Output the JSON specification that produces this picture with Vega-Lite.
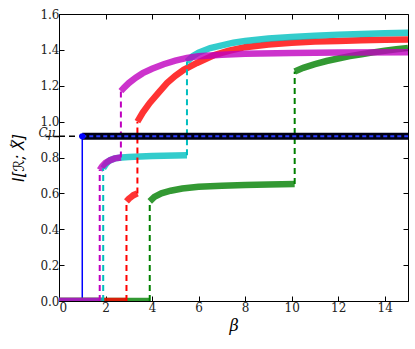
{
  "$schema": "https://vega.github.io/schema/vega-lite/v6.json",
  "width": 349,
  "height": 287,
  "autosize": "none",
  "padding": {"left": 59, "top": 14, "right": 7, "bottom": 48},
  "background": "white",
  "config": {
    "view": {"stroke": null},
    "axis": {"labelFont": "DejaVu Serif", "titleFont": "DejaVu Serif", "labelFontSize": 12, "titleFontSize": 15, "labelColor": "#222", "titleColor": "black", "domainColor": "black", "tickColor": "black", "grid": false, "labelOverlap": false, "titleFontWeight": "normal"}
  },
  "datasets": {
    "bands": [
      {"s": "green", "g": "g0", "b": 0, "v": 0}, {"s": "green", "g": "g0", "b": 3.9, "v": 0},
      {"s": "red", "g": "r0", "b": 0, "v": 0}, {"s": "red", "g": "r0", "b": 2.9, "v": 0},
      {"s": "cyan", "g": "c0", "b": 0, "v": 0}, {"s": "cyan", "g": "c0", "b": 1.9, "v": 0},
      {"s": "magenta", "g": "m0", "b": 0, "v": 0}, {"s": "magenta", "g": "m0", "b": 1.75, "v": 0},
      {"s": "green", "g": "g1", "b": 3.9, "v": 0.555}, {"s": "green", "g": "g1", "b": 4.1, "v": 0.58},
      {"s": "green", "g": "g1", "b": 4.4, "v": 0.6}, {"s": "green", "g": "g1", "b": 4.8, "v": 0.615},
      {"s": "green", "g": "g1", "b": 5.3, "v": 0.627}, {"s": "green", "g": "g1", "b": 6, "v": 0.637},
      {"s": "green", "g": "g1", "b": 7, "v": 0.643}, {"s": "green", "g": "g1", "b": 8, "v": 0.647},
      {"s": "green", "g": "g1", "b": 9, "v": 0.65}, {"s": "green", "g": "g1", "b": 10.13, "v": 0.652},
      {"s": "green", "g": "g2", "b": 10.13, "v": 1.28}, {"s": "green", "g": "g2", "b": 10.5, "v": 1.3},
      {"s": "green", "g": "g2", "b": 11, "v": 1.32}, {"s": "green", "g": "g2", "b": 11.5, "v": 1.338},
      {"s": "green", "g": "g2", "b": 12, "v": 1.352}, {"s": "green", "g": "g2", "b": 12.5, "v": 1.365},
      {"s": "green", "g": "g2", "b": 13, "v": 1.376}, {"s": "green", "g": "g2", "b": 13.5, "v": 1.386},
      {"s": "green", "g": "g2", "b": 14, "v": 1.395}, {"s": "green", "g": "g2", "b": 14.5, "v": 1.403},
      {"s": "green", "g": "g2", "b": 15, "v": 1.41},
      {"s": "red", "g": "r1", "b": 2.9, "v": 0.555}, {"s": "red", "g": "r1", "b": 3.0, "v": 0.57},
      {"s": "red", "g": "r1", "b": 3.1, "v": 0.58}, {"s": "red", "g": "r1", "b": 3.2, "v": 0.59},
      {"s": "red", "g": "r1", "b": 3.37, "v": 0.6},
      {"s": "red", "g": "r2", "b": 3.37, "v": 1.0}, {"s": "red", "g": "r2", "b": 3.6, "v": 1.05},
      {"s": "red", "g": "r2", "b": 3.9, "v": 1.104}, {"s": "red", "g": "r2", "b": 4.3, "v": 1.165},
      {"s": "red", "g": "r2", "b": 4.64, "v": 1.215}, {"s": "red", "g": "r2", "b": 5.0, "v": 1.255},
      {"s": "red", "g": "r2", "b": 5.36, "v": 1.289}, {"s": "red", "g": "r2", "b": 5.93, "v": 1.327},
      {"s": "red", "g": "r2", "b": 6.65, "v": 1.37}, {"s": "red", "g": "r2", "b": 7.3, "v": 1.395},
      {"s": "red", "g": "r2", "b": 8, "v": 1.415}, {"s": "red", "g": "r2", "b": 9, "v": 1.43},
      {"s": "red", "g": "r2", "b": 10, "v": 1.44}, {"s": "red", "g": "r2", "b": 11, "v": 1.446},
      {"s": "red", "g": "r2", "b": 12, "v": 1.45}, {"s": "red", "g": "r2", "b": 13, "v": 1.453},
      {"s": "red", "g": "r2", "b": 14, "v": 1.456}, {"s": "red", "g": "r2", "b": 15, "v": 1.458},
      {"s": "cyan", "g": "c1", "b": 1.9, "v": 0.74}, {"s": "cyan", "g": "c1", "b": 2.0, "v": 0.76},
      {"s": "cyan", "g": "c1", "b": 2.1, "v": 0.775}, {"s": "cyan", "g": "c1", "b": 2.2, "v": 0.785},
      {"s": "cyan", "g": "c1", "b": 2.4, "v": 0.795}, {"s": "cyan", "g": "c1", "b": 2.7, "v": 0.8},
      {"s": "cyan", "g": "c1", "b": 3.0, "v": 0.803}, {"s": "cyan", "g": "c1", "b": 3.5, "v": 0.806},
      {"s": "cyan", "g": "c1", "b": 4.0, "v": 0.808}, {"s": "cyan", "g": "c1", "b": 4.5, "v": 0.81},
      {"s": "cyan", "g": "c1", "b": 5.0, "v": 0.811}, {"s": "cyan", "g": "c1", "b": 5.5, "v": 0.812},
      {"s": "cyan", "g": "c2", "b": 5.5, "v": 1.335}, {"s": "cyan", "g": "c2", "b": 5.75, "v": 1.365},
      {"s": "cyan", "g": "c2", "b": 6, "v": 1.385}, {"s": "cyan", "g": "c2", "b": 6.5, "v": 1.41},
      {"s": "cyan", "g": "c2", "b": 7, "v": 1.425}, {"s": "cyan", "g": "c2", "b": 7.5, "v": 1.44},
      {"s": "cyan", "g": "c2", "b": 8, "v": 1.45}, {"s": "cyan", "g": "c2", "b": 9, "v": 1.463},
      {"s": "cyan", "g": "c2", "b": 10, "v": 1.472}, {"s": "cyan", "g": "c2", "b": 11, "v": 1.479},
      {"s": "cyan", "g": "c2", "b": 12, "v": 1.485}, {"s": "cyan", "g": "c2", "b": 13, "v": 1.489},
      {"s": "cyan", "g": "c2", "b": 14, "v": 1.492}, {"s": "cyan", "g": "c2", "b": 15, "v": 1.495},
      {"s": "magenta", "g": "m1", "b": 1.75, "v": 0.73}, {"s": "magenta", "g": "m1", "b": 1.85, "v": 0.75},
      {"s": "magenta", "g": "m1", "b": 2.0, "v": 0.77}, {"s": "magenta", "g": "m1", "b": 2.2, "v": 0.785},
      {"s": "magenta", "g": "m1", "b": 2.4, "v": 0.795}, {"s": "magenta", "g": "m1", "b": 2.66, "v": 0.8},
      {"s": "magenta", "g": "m2", "b": 2.66, "v": 1.17}, {"s": "magenta", "g": "m2", "b": 2.8, "v": 1.19},
      {"s": "magenta", "g": "m2", "b": 3.0, "v": 1.215}, {"s": "magenta", "g": "m2", "b": 3.3, "v": 1.245},
      {"s": "magenta", "g": "m2", "b": 3.6, "v": 1.27}, {"s": "magenta", "g": "m2", "b": 4.0, "v": 1.295},
      {"s": "magenta", "g": "m2", "b": 4.5, "v": 1.32}, {"s": "magenta", "g": "m2", "b": 5.0, "v": 1.34},
      {"s": "magenta", "g": "m2", "b": 5.5, "v": 1.355}, {"s": "magenta", "g": "m2", "b": 6, "v": 1.365},
      {"s": "magenta", "g": "m2", "b": 7, "v": 1.373}, {"s": "magenta", "g": "m2", "b": 8, "v": 1.378},
      {"s": "magenta", "g": "m2", "b": 10, "v": 1.382}, {"s": "magenta", "g": "m2", "b": 12, "v": 1.385},
      {"s": "magenta", "g": "m2", "b": 15, "v": 1.387}
    ],
    "jumps": [
      {"s": "magenta", "b": 1.75, "y1": 0, "y2": 0.73}, {"s": "magenta", "b": 2.66, "y1": 0.8, "y2": 1.17},
      {"s": "cyan", "b": 1.9, "y1": 0, "y2": 0.74}, {"s": "cyan", "b": 5.5, "y1": 0.812, "y2": 1.335},
      {"s": "red", "b": 2.9, "y1": 0, "y2": 0.555}, {"s": "red", "b": 3.37, "y1": 0.6, "y2": 1.0},
      {"s": "green", "b": 3.9, "y1": 0, "y2": 0.555}, {"s": "green", "b": 10.13, "y1": 0.652, "y2": 1.28}
    ],
    "blue": [
      {"i": 0, "b": 0, "v": 0}, {"i": 1, "b": 1, "v": 0}, {"i": 2, "b": 1, "v": 0.918}
    ],
    "cmu": [
      {"b": 0, "v": 0.918}, {"b": 1, "v": 0.918}
    ],
    "plateau": [
      {"b": 1, "v": 0.918}, {"b": 15, "v": 0.918}
    ]
  },
  "resolve": {"axis": {"x": "independent", "y": "independent"}},
  "layer": [
    {
      "data": {"name": "blue"},
      "mark": {"type": "line", "color": "#0000ff", "strokeWidth": 1.5, "clip": true},
      "encoding": {
        "x": {"field": "b", "type": "quantitative", "scale": {"domain": [0, 15], "nice": false, "zero": false},
              "axis": {"orient": "bottom", "title": "β", "titleFontStyle": "italic", "titleFontSize": 16, "values": [0, 2, 4, 6, 8, 10, 12, 14], "format": "d", "tickSize": -5, "labelPadding": 6, "titlePadding": 4}},
        "y": {"field": "v", "type": "quantitative", "scale": {"domain": [0, 1.6], "nice": false, "zero": false},
              "axis": {"orient": "left", "title": "I[ℛ; X⃖]", "titleFont": "DejaVu Sans", "titleFontStyle": "italic", "titleFontSize": 15,
                       "titleX": -33, "titleY": 143.5, "titleBaseline": "bottom", "titleAlign": "center",
                       "values": [0, 0.2, 0.4, 0.6, 0.8, 0.918, 1.0, 1.2, 1.4, 1.6],
                       "labelExpr": "datum.value == 0.918 ? 'Cμ' : format(datum.value, '.1f')",
                       "labelFontStyle": {"condition": {"test": "datum.value == 0.918", "value": "italic"}, "value": "normal"},
                       "labelBaseline": {"condition": {"test": "datum.value == 0.918", "value": "alphabetic"}, "value": "middle"},
                       "tickSize": {"condition": {"test": "datum.value == 0.918", "value": 14}, "value": -5},
                       "tickDash": {"condition": {"test": "datum.value == 0.918", "value": [6, 4]}, "value": []},
                       "tickWidth": {"condition": {"test": "datum.value == 0.918", "value": 1.5}, "value": 1},
                       "labelPadding": {"condition": {"test": "datum.value == 0.918", "value": -10}, "value": 5}}},
        "order": {"field": "i", "type": "quantitative"}
      }
    },
    {
      "data": {"name": "bands"},
      "mark": {"type": "line", "strokeWidth": 6.5, "opacity": 0.8, "clip": true, "strokeCap": "butt"},
      "encoding": {
        "x": {"field": "b", "type": "quantitative", "axis": null},
        "y": {"field": "v", "type": "quantitative", "axis": null},
        "color": {"field": "s", "type": "nominal", "legend": null,
                  "scale": {"domain": ["blue", "green", "red", "cyan", "magenta"], "range": ["#0000ff", "#008000", "#ff0000", "#00bfbf", "#bf00bf"]}},
        "detail": {"field": "g", "type": "nominal"}
      }
    },
    {
      "data": {"name": "jumps"},
      "mark": {"type": "rule", "strokeWidth": 2, "strokeDash": [6, 4], "clip": true},
      "encoding": {
        "x": {"field": "b", "type": "quantitative", "axis": null},
        "y": {"field": "y1", "type": "quantitative", "axis": null},
        "y2": {"field": "y2"},
        "color": {"field": "s", "type": "nominal", "legend": null}
      }
    },
    {
      "data": {"name": "cmu"},
      "mark": {"type": "line", "color": "black", "strokeWidth": 1.5, "strokeDash": [6, 4]},
      "encoding": {
        "x": {"field": "b", "type": "quantitative", "axis": null},
        "y": {"field": "v", "type": "quantitative", "axis": null}
      }
    },
    {
      "data": {"name": "plateau"},
      "mark": {"type": "line", "color": "#000014", "strokeWidth": 7, "clip": true},
      "encoding": {
        "x": {"field": "b", "type": "quantitative",
              "axis": {"orient": "top", "title": null, "labels": false, "tickSize": -5, "values": [0, 2, 4, 6, 8, 10, 12, 14]}},
        "y": {"field": "v", "type": "quantitative",
              "axis": {"orient": "right", "title": null, "labels": false, "tickSize": -5, "values": [0, 0.2, 0.4, 0.6, 0.8, 1.0, 1.2, 1.4, 1.6]}}
      }
    },
    {
      "data": {"name": "plateau"},
      "mark": {"type": "line", "color": "#2a3cff", "strokeWidth": 2, "strokeDash": [4, 3], "clip": true},
      "encoding": {
        "x": {"field": "b", "type": "quantitative", "axis": null},
        "y": {"field": "v", "type": "quantitative", "axis": null}
      }
    },
    {
      "data": {"name": "cmu"},
      "transform": [{"filter": "datum.b == 1"}],
      "mark": {"type": "point", "filled": true, "color": "#0000ff", "size": 40, "opacity": 1},
      "encoding": {
        "x": {"field": "b", "type": "quantitative", "axis": null},
        "y": {"field": "v", "type": "quantitative", "axis": null}
      }
    }
  ]
}
